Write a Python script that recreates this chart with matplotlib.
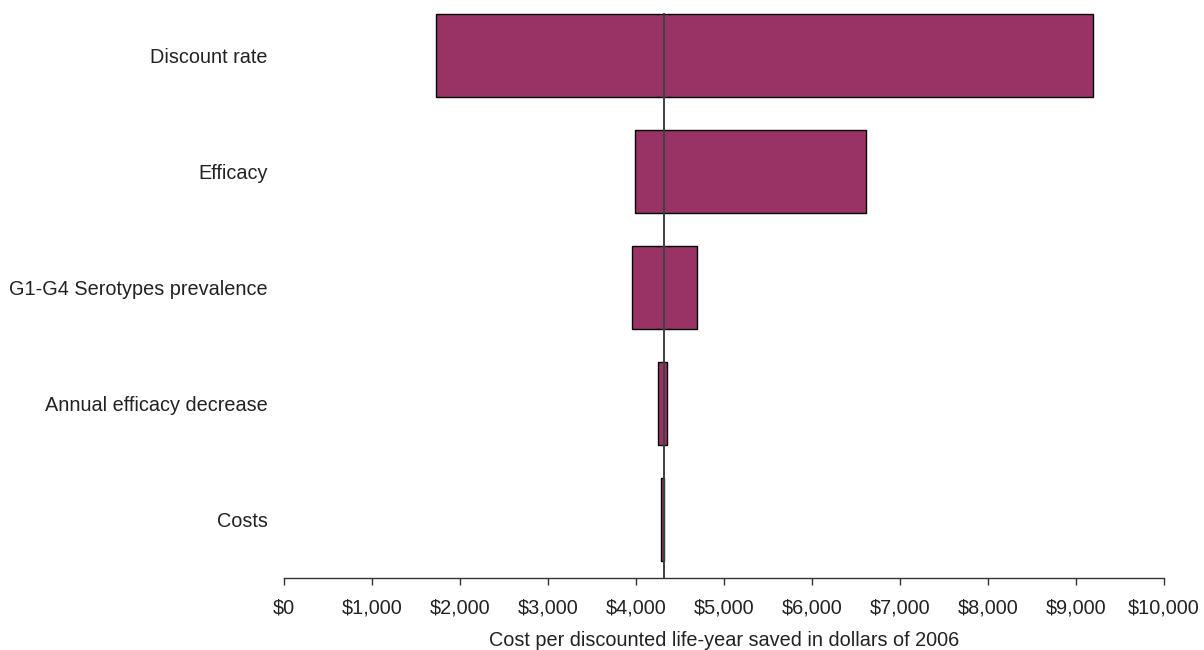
import matplotlib
matplotlib.use("Agg")
from matplotlib import pyplot as plt
from matplotlib.ticker import FuncFormatter
import numpy as np

# tornado data, top to bottom in the picture
params = ["Discount rate", "Efficacy", "G1-G4 Serotypes prevalence",
          "Annual efficacy decrease", "Costs"]
low = [1724, 3985, 3951, 4244, 4280]
high = [9190, 6610, 4690, 4346, 4315]
base = 4315

plt.rcParams['font.family'] = ['Liberation Sans', 'DejaVu Sans']

fig = plt.figure(figsize=(12.04, 6.5), dpi=100)
ax = fig.add_axes([0.2361, 0.1108, 0.9668 - 0.2361, 0.8892])

ypos = np.arange(len(params))[::-1]
lo = np.array(low)
hi = np.array(high)
ax.barh(ypos, hi - lo, left=lo, height=0.714, color="#993366",
        edgecolor="black", linewidth=1.0, zorder=2)
ax.plot([base, base], [-0.5, ypos[0] + 0.357], color="#404040", lw=1.4, zorder=3)

ax.set_xlim(0, 10000)
ax.set_ylim(-0.5, 4.474)
ax.set_xticks(np.arange(0, 10001, 1000))
ax.xaxis.set_major_formatter(FuncFormatter(lambda v, p: "${:,.0f}".format(v)))
ax.set_yticks(ypos)
ax.set_yticklabels(params)

for s in ["top", "right", "left"]:
    ax.spines[s].set_visible(False)
ax.spines["bottom"].set_linewidth(1.0)
ax.spines["bottom"].set_color("#333333")
ax.tick_params(axis="y", length=0, pad=12, labelsize=14.3, labelcolor="#222222")
ax.tick_params(axis="x", direction="out", length=5, width=1.0, pad=9.5,
               labelsize=14.3, color="#333333", labelcolor="#222222")
ax.set_xlabel("Cost per discounted life-year saved in dollars of 2006",
              fontsize=14.3, labelpad=10, color="#222222")

fig.savefig("out.png", dpi=100)
